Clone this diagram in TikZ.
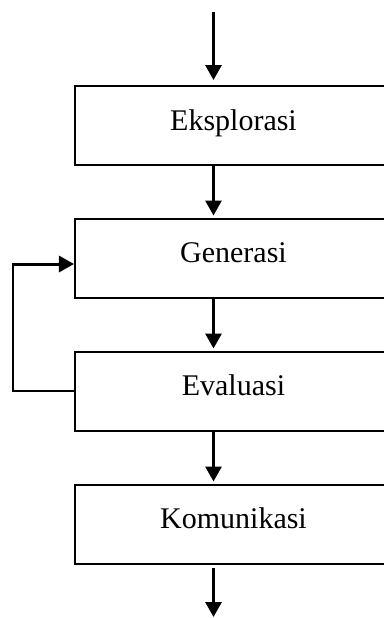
\documentclass[tikz,border=0pt]{standalone}
\usepackage{fontspec}
\setmainfont{Liberation Serif}
\usetikzlibrary{arrows.meta}
\begin{document}
\begin{tikzpicture}[x=0.5pt,y=-0.5pt,
  stage/.style={draw, line width=1pt, minimum width=158.5pt, minimum height=39.5pt,
    inner sep=0pt, font=\fontsize{15}{18}\selectfont, text height=8pt, text depth=3.5pt},
  flow/.style={line width=1.5pt, -{Triangle[width=8pt,length=7.5pt]}},
  loopline/.style={line width=1pt},
  ]
\useasboundingbox (0,0) rectangle (384,618);
\clip (0,0) rectangle (384,618);

% stages of the process
\node[stage] (eks) at (233.5,125.5) {Eksplorasi};
\node[stage] (gen) at (233.5,258)   {Generasi};
\node[stage] (eva) at (233.5,391)   {Evaluasi};
\node[stage] (kom) at (233.5,524)   {Komunikasi};

% free ends of the main flow
\coordinate (in)   at (213.5,12);
\coordinate (out0) at (213.5,568);
\coordinate (out)  at (213.5,617);

% main flow
\draw[flow, shorten >=2.5pt] (in) -- (in |- eks.north);
\draw[flow, shorten >=1pt] (eks.south -| in) -- (gen.north -| in);
\draw[flow, shorten >=1pt] (gen.south -| in) -- (eva.north -| in);
\draw[flow, shorten >=1pt] (eva.south -| in) -- (kom.north -| in);
\draw[flow] (out0) -- (out);

% feedback from evaluation back to generation
\coordinate (lp) at (13,264);
\draw[loopline] (eva.west) -| (lp);
\draw[flow] ([xshift=-0.5pt]lp) -- (lp -| gen.west);
\end{tikzpicture}
\end{document}
